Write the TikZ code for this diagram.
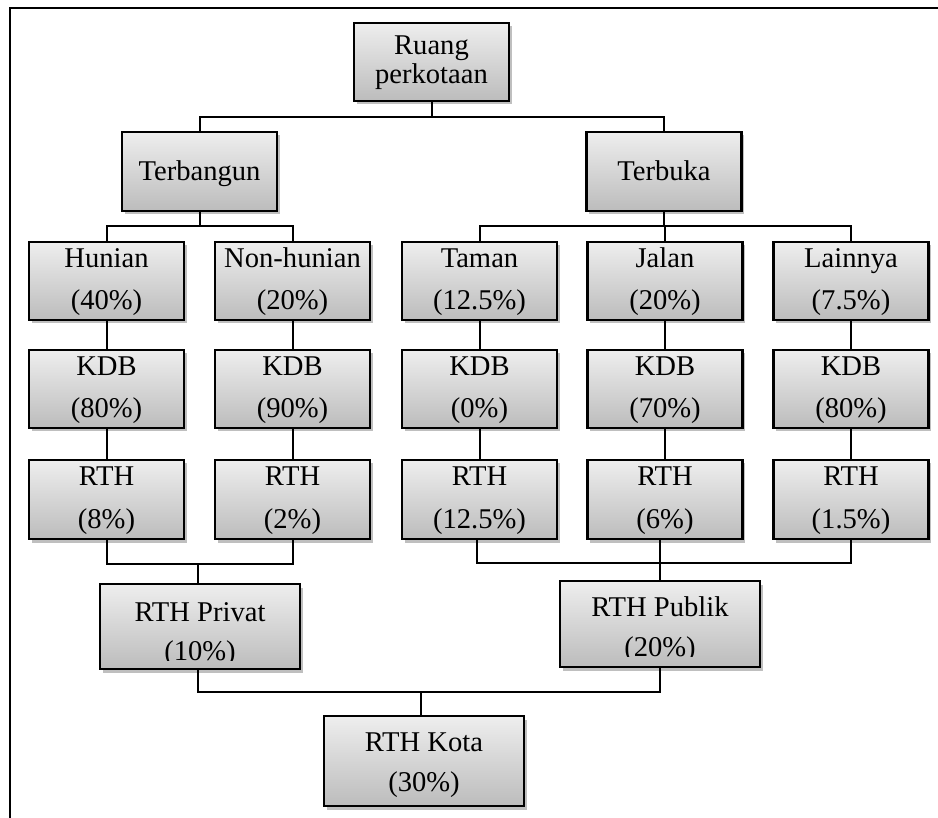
\documentclass[tikz,border=0pt]{standalone}
\usepackage{fontspec}
\setmainfont{Liberation Serif}
\usetikzlibrary{shadows}
\definecolor{boxtop}{RGB}{238,238,238}
\definecolor{boxbot}{RGB}{188,188,188}
\newcommand\btxt[4]{\node[lbl] (#1) at ([yshift=-#3pt]#2.north) {#4};}
\begin{document}
\begin{tikzpicture}[x=1pt,y=-1pt,
  box/.style={draw=black, line width=2.4pt, rectangle, inner sep=0pt,
    top color=boxtop, bottom color=boxbot,
    drop shadow={shadow xshift=2.5pt, shadow yshift=-3.5pt, opacity=0.25, fill=black}},
  rowbox/.style={box, minimum width=155pt, minimum height=78pt},
  bigbox/.style={box, minimum width=200pt},
  lbl/.style={anchor=base, inner sep=0pt, font=\fontsize{28.6pt}{34pt}\selectfont},
  conn/.style={line width=2pt, line join=miter},
  frame/.style={line width=2pt}
]
\useasboundingbox (0,0) rectangle (938,818);
\coordinate (fb) at (10,818);
\coordinate (ftl) at (10,8);
\coordinate (ftr) at (938,8);
\draw[frame] (fb) -- (ftl) -- (ftr);

% boxes
\node[rowbox] (ruang) at (431.5,62) {};
\node[rowbox, minimum height=79pt] (terbangun) at (199.5,171.5) {};
\node[rowbox, minimum height=79pt] (terbuka) at (664,171.5) {};

\node[rowbox] (hun) at (106.5,281) {};
\node[rowbox] (non) at (292.5,281) {};
\node[rowbox] (taman) at (479.5,281) {};
\node[rowbox] (jalan) at (665,281) {};
\node[rowbox] (lain) at (851,281) {};

\node[rowbox] (hunK) at (106.5,389) {};
\node[rowbox] (nonK) at (292.5,389) {};
\node[rowbox] (tamanK) at (479.5,389) {};
\node[rowbox] (jalanK) at (665,389) {};
\node[rowbox] (lainK) at (851,389) {};

\node[rowbox, minimum height=79pt] (hunR) at (106.5,499.5) {};
\node[rowbox, minimum height=79pt] (nonR) at (292.5,499.5) {};
\node[rowbox, minimum height=79pt] (tamanR) at (479.5,499.5) {};
\node[rowbox, minimum height=79pt] (jalanR) at (665,499.5) {};
\node[rowbox, minimum height=79pt] (lainR) at (851,499.5) {};

\node[bigbox, minimum height=85pt] (privat) at (200,626.5) {};
\node[bigbox, minimum height=86pt] (publik) at (660,624) {};
\node[bigbox, minimum height=90pt] (kota) at (424,761) {};

% texts
\btxt{ruang-a}{ruang}{33}{Ruang}
\btxt{ruang-b}{ruang}{62}{perkotaan}
\btxt{terbangun-a}{terbangun}{50}{Terbangun}
\btxt{terbuka-a}{terbuka}{50}{Terbuka}

\btxt{hun-a}{hun}{27}{Hunian}
\btxt{hun-b}{hun}{69}{(40\%)}
\btxt{non-a}{non}{27}{Non-hunian}
\btxt{non-b}{non}{69}{(20\%)}
\btxt{taman-a}{taman}{27}{Taman}
\btxt{taman-b}{taman}{69}{(12.5\%)}
\btxt{jalan-a}{jalan}{27}{Jalan}
\btxt{jalan-b}{jalan}{69}{(20\%)}
\btxt{lain-a}{lain}{27}{Lainnya}
\btxt{lain-b}{lain}{69}{(7.5\%)}

\btxt{hunK-a}{hunK}{27}{KDB}
\btxt{hunK-b}{hunK}{69}{(80\%)}
\btxt{nonK-a}{nonK}{27}{KDB}
\btxt{nonK-b}{nonK}{69}{(90\%)}
\btxt{tamanK-a}{tamanK}{27}{KDB}
\btxt{tamanK-b}{tamanK}{69}{(0\%)}
\btxt{jalanK-a}{jalanK}{27}{KDB}
\btxt{jalanK-b}{jalanK}{69}{(70\%)}
\btxt{lainK-a}{lainK}{27}{KDB}
\btxt{lainK-b}{lainK}{69}{(80\%)}

\btxt{hunR-a}{hunR}{27}{RTH}
\btxt{hunR-b}{hunR}{70}{(8\%)}
\btxt{nonR-a}{nonR}{27}{RTH}
\btxt{nonR-b}{nonR}{70}{(2\%)}
\btxt{tamanR-a}{tamanR}{27}{RTH}
\btxt{tamanR-b}{tamanR}{70}{(12.5\%)}
\btxt{jalanR-a}{jalanR}{27}{RTH}
\btxt{jalanR-b}{jalanR}{70}{(6\%)}
\btxt{lainR-a}{lainR}{27}{RTH}
\btxt{lainR-b}{lainR}{70}{(1.5\%)}

\begin{scope}
  \clip (privat.north west) rectangle ([yshift=10pt]privat.south east);
  \btxt{privat-a}{privat}{39}{RTH Privat}
  \btxt{privat-b}{privat}{78}{(10\%)}
\end{scope}
\begin{scope}
  \clip (publik.north west) rectangle ([yshift=12pt]publik.south east);
  \btxt{publik-a}{publik}{37}{RTH Publik}
  \btxt{publik-b}{publik}{77}{(20\%)}
\end{scope}
\btxt{kota-a}{kota}{37}{RTH Kota}
\btxt{kota-b}{kota}{77}{(30\%)}

% connectors
\coordinate (b1) at (0,117);
\draw[conn] (ruang.south) -- (ruang.south |- b1);
\draw[conn] (terbangun.north) -- (terbangun.north |- b1) -- (terbuka.north |- b1) -- (terbuka.north);

\coordinate (b2) at (0,226);
\draw[conn] (terbangun.south) -- (terbangun.south |- b2);
\draw[conn] (hun.north) -- (hun.north |- b2) -- (non.north |- b2) -- (non.north);
\draw[conn] (terbuka.south) -- (terbuka.south |- b2);
\draw[conn] (taman.north) -- (taman.north |- b2) -- (lain.north |- b2) -- (lain.north);
\draw[conn] (jalan.north) -- (jalan.north |- b2);

\foreach \c in {hun,non,taman,jalan,lain}{
  \draw[conn] (\c.south) -- (\c K.north);
  \draw[conn] (\c K.south) -- (\c R.north);
}

\coordinate (b3) at (0,564);
\coordinate (b3r) at (0,563);
\coordinate (b4) at (0,692);
\coordinate (pn) at ([xshift=-2pt]privat.north);
\coordinate (ps) at ([xshift=-2pt]privat.south);
\coordinate (ts) at ([xshift=-3pt]tamanR.south);
\coordinate (kn) at ([xshift=-3pt]kota.north);

\draw[conn] (hunR.south) -- (hunR.south |- b3) -- (nonR.south |- b3) -- (nonR.south);
\draw[conn] (pn) -- (pn |- b3);
\draw[conn] (ts) -- (ts |- b3r) -- (lainR.south |- b3r) -- (lainR.south);
\draw[conn] (jalanR.south -| publik.north) -- (publik.north);
\draw[conn] (ps) -- (ps |- b4) -- (publik.south |- b4) -- (publik.south);
\draw[conn] (kn) -- (kn |- b4);
\end{tikzpicture}
\end{document}
